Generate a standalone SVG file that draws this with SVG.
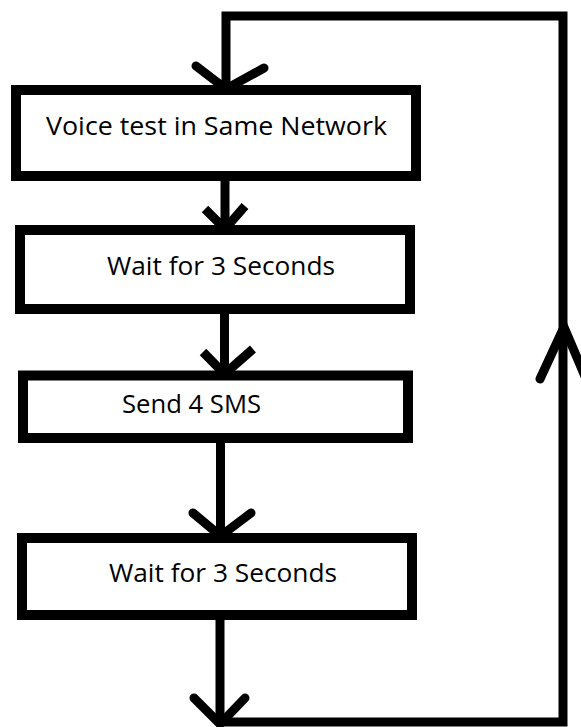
<svg xmlns="http://www.w3.org/2000/svg" width="581" height="727" viewBox="0 0 581 727">
  <style>
    .box { fill: #ffffff; stroke: #000000; stroke-width: 10; }
    .lbl { font-family: "Open Sans", "Noto Sans", "Liberation Sans", sans-serif; font-size: 25px; fill: #000000; }
    .wire { fill: none; stroke: #000000; stroke-width: 9; stroke-linejoin: miter; }
    .head { fill: none; stroke: #000000; stroke-width: 9; stroke-linecap: round; stroke-linejoin: miter; }
    .wedge { fill: none; stroke: #000000; stroke-width: 9; stroke-linecap: butt; stroke-linejoin: miter; }
  </style>
  <rect width="581" height="727" fill="#ffffff"/>

  <g id="connectors">
    <!-- loop back from bottom to top -->
    <path class="wire" d="M220,722 H563 V16 H226 V88"/>
    <!-- box1 -> box2 -->
    <line class="wire" x1="225" y1="178" x2="225" y2="228"/>
    <!-- box2 -> box3 -->
    <line class="wire" x1="224.5" y1="310" x2="224.5" y2="373"/>
    <!-- box3 -> box4 -->
    <line class="wire" x1="220.5" y1="440" x2="220.5" y2="535"/>
    <!-- box4 -> bottom -->
    <line class="wire" x1="220" y1="617" x2="220" y2="722"/>

    <!-- arrowheads -->
    <polyline class="head" points="196,66 226,89 264,68"/>
    <polyline class="wedge" points="205,209 225,229 245,206"/>
    <polyline class="wedge" points="203,352 224.5,374 253,349"/>
    <polyline class="head" points="193,513 220.5,536 251,513"/>
    <polyline class="head" points="194,698 220,724 245,698"/>
    <polyline class="head" points="540,379 564,327 587,381"/>
  </g>

  <g id="node-voice-test">
    <rect class="box" x="16" y="90" width="400" height="86"/>
    <text class="lbl" x="46" y="135" textLength="341" lengthAdjust="spacingAndGlyphs">Voice test in Same Network</text>
  </g>

  <g id="node-wait-1">
    <rect class="box" x="20" y="230" width="390" height="79"/>
    <text class="lbl" x="107" y="275" textLength="228" lengthAdjust="spacingAndGlyphs">Wait for 3 Seconds</text>
  </g>

  <g id="node-send-sms">
    <rect class="box" x="23" y="375.5" width="385" height="62.5"/>
    <text class="lbl" x="122" y="413" textLength="139" lengthAdjust="spacingAndGlyphs">Send 4 SMS</text>
  </g>

  <g id="node-wait-2">
    <rect class="box" x="22" y="538" width="390" height="77"/>
    <text class="lbl" x="109" y="582" textLength="228" lengthAdjust="spacingAndGlyphs">Wait for 3 Seconds</text>
  </g>
</svg>
